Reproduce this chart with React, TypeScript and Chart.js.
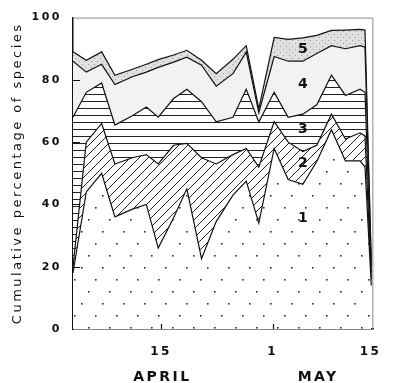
import React, { useEffect, useRef } from 'react';
import { Chart, registerables } from 'chart.js';

Chart.register(...registerables);

// Sampling days (April 1 = 1, May 1 = 31, May 15 = 45)
const days = [2.4, 4.3, 6.5, 8.4, 10.9, 12.9, 14.6, 16.8, 18.7, 20.8, 22.9, 25.3, 27.2, 29.0, 31.2, 33.2, 35.3, 37.3, 39.4, 41.4, 43.5, 44.2, 45.1];
// Cumulative percentages (top of each band)
const cum1 = [18, 44, 50, 36, 38.5, 40, 26, 35.7, 45, 22.6, 34.5, 43, 47.5, 34, 58, 48, 46.5, 53.8, 64, 54, 54, 52, 14];
const cum2 = [20, 60, 66, 53, 55, 56, 53, 59, 59.6, 55, 53, 56, 58, 52, 66.6, 60, 57, 59, 69, 61, 63, 62, 16];
const cum3 = [68, 76, 79, 65.5, 68.5, 71.3, 68, 74, 77, 73, 66.5, 68, 77, 66.5, 76, 68, 69, 72, 81.5, 75, 77, 76, 18];
const cum4 = [86, 82.5, 85, 78.5, 81, 82.5, 84, 85.7, 87.3, 84.7, 78, 82, 88.9, 69.5, 87.5, 86, 86, 88.5, 91, 90, 91, 90.5, 20];
const cum5 = [89, 86.3, 89, 81.5, 83.4, 85, 86.5, 88, 89.5, 86.3, 82, 86.6, 91, 70.7, 93.6, 93, 93.5, 94.3, 95.9, 96, 96.2, 96, 22];

const yTickValues = [0, 20, 40, 60, 80, 100];
const xTickDays = [15, 31, 45];
const xTickLabels = ['15', '1', '15'];
const monthDays = [15.2, 37.5];
const monthLabels = ['APRIL', 'MAY'];
const bandLabelDay = 35.3;
const bandLabelValues = [35.4, 53.2, 64, 78.7, 89.8];
const bandLabels = ['1', '2', '3', '4', '5'];
const yTitle = 'Cumulative percentage of species';

const FAMILY = "'DejaVu Sans', 'Liberation Sans', sans-serif";

function makeTile(w: number, h: number, draw: (g: CanvasRenderingContext2D) => void): CanvasPattern | string {
  const c = document.createElement('canvas');
  c.width = w;
  c.height = h;
  const g = c.getContext('2d');
  if (!g) return '#fff';
  draw(g);
  return g.createPattern(c, 'repeat') || '#fff';
}

export default function App() {
  const ref = useRef<HTMLCanvasElement | null>(null);

  useEffect(() => {
    const canvas = ref.current;
    if (!canvas) return;

    const dots = makeTile(42, 36, (g) => {
      g.fillStyle = '#fff';
      g.fillRect(0, 0, 42, 36);
      g.fillStyle = '#333';
      const pts = [[4, 3], [18, 15], [32, 27], [11, 27], [25, 3], [39, 15]];
      pts.forEach(([x, y]) => g.fillRect(x, y, 1.6, 1.6));
    });
    const hatch = makeTile(9, 9, (g) => {
      g.fillStyle = '#fff';
      g.fillRect(0, 0, 9, 9);
      g.strokeStyle = '#222';
      g.lineWidth = 1;
      g.beginPath();
      g.moveTo(0, 9); g.lineTo(9, 0);
      g.moveTo(-1, 1); g.lineTo(1, -1);
      g.moveTo(8, 10); g.lineTo(10, 8);
      g.stroke();
    });
    const horiz = makeTile(4, 7, (g) => {
      g.fillStyle = '#fff';
      g.fillRect(0, 0, 4, 7);
      g.fillStyle = '#222';
      g.fillRect(0, 3, 4, 1);
    });
    const stipple = makeTile(6, 6, (g) => {
      g.fillStyle = '#e0e0e0';
      g.fillRect(0, 0, 6, 6);
      g.fillStyle = '#999';
      g.fillRect(1, 1, 1, 1);
      g.fillRect(4, 4, 1, 1);
    });

    const framePlugin = {
      id: 'frame',
      beforeDraw(chart: any) {
        const ctx = chart.ctx;
        ctx.save();
        ctx.fillStyle = '#fff';
        ctx.fillRect(0, 0, chart.width, chart.height);
        ctx.restore();
        (ctx as any).letterSpacing = '2.5px';
      },
      afterDatasetsDraw(chart: any) {
        const ctx = chart.ctx;
        const { left, right, top, bottom } = chart.chartArea;
        const sx = chart.scales.x;
        const sy = chart.scales.y;
        ctx.save();
        (ctx as any).letterSpacing = '0px';
        ctx.strokeStyle = '#8c8c8c';
        ctx.lineWidth = 1;
        ctx.beginPath();
        ctx.moveTo(left, top + 0.5);
        ctx.lineTo(right - 0.5, top + 0.5);
        ctx.lineTo(right - 0.5, bottom);
        ctx.stroke();
        ctx.strokeStyle = '#111';
        ctx.lineWidth = 1.2;
        ctx.beginPath();
        yTickValues.forEach((v) => {
          if (v > 0 && v < 100) {
            const y = Math.round(sy.getPixelForValue(v)) + 0.5;
            ctx.moveTo(left, y);
            ctx.lineTo(left + 7, y);
          }
        });
        xTickDays.slice(0, 2).forEach((d) => {
          const x = Math.round(sx.getPixelForValue(d)) + 0.5;
          ctx.moveTo(x, bottom);
          ctx.lineTo(x, bottom - 5);
        });
        ctx.stroke();
        ctx.fillStyle = '#111';
        ctx.font = `bold 14px ${FAMILY}`;
        ctx.textAlign = 'center';
        ctx.textBaseline = 'middle';
        const bx = sx.getPixelForValue(bandLabelDay);
        bandLabelValues.forEach((v, i) => {
          ctx.fillText(bandLabels[i], bx, sy.getPixelForValue(v));
        });
        ctx.restore();
        (ctx as any).letterSpacing = '2.5px';
      },
    };

    const mk = (data: number[], fill: any, bg: any) => ({
      data: days.map((d, i) => ({ x: d, y: data[i] })),
      fill,
      backgroundColor: bg,
      borderColor: '#111',
      borderWidth: 1.2,
      pointRadius: 0,
      tension: 0,
    });

    const chart = new Chart(canvas, {
      type: 'line',
      data: {
        datasets: [
          mk(cum1, 'origin', dots),
          mk(cum2, '-1', hatch),
          mk(cum3, '-1', horiz),
          mk(cum4, '-1', '#f2f2f2'),
          mk(cum5, '-1', stipple),
        ] as any,
      },
      options: {
        animation: false,
        responsive: false,
        layout: { padding: { left: 0, right: 8, top: 15, bottom: 0 } },
        plugins: {
          legend: { display: false },
          tooltip: { enabled: false },
        },
        scales: {
          x: {
            type: 'linear',
            min: 2.4,
            max: 45.4,
            position: 'bottom',
            weight: 0,
            z: 1,
            grid: { display: false, drawTicks: false },
            border: { display: true, color: '#111', width: 1.5 },
            afterBuildTicks: (s: any) => { s.ticks = xTickDays.map((v) => ({ value: v })); },
            afterFit: (s: any) => { s.height = 34; },
            ticks: {
              padding: 16,
              color: '#111',
              autoSkip: false,
              maxRotation: 0,
              font: { family: FAMILY, size: 12, weight: 'bold' },
              callback: (v: any) => { const i = xTickDays.indexOf(v); return i >= 0 ? xTickLabels[i] : ''; },
            },
          },
          x2: {
            type: 'linear',
            min: 2.4,
            max: 45.4,
            position: 'bottom',
            weight: 1,
            grid: { display: false, drawTicks: false },
            border: { display: false },
            afterBuildTicks: (s: any) => { s.ticks = monthDays.map((v) => ({ value: v })); },
            afterFit: (s: any) => { s.height = 20; },
            ticks: {
              padding: 6,
              color: '#111',
              autoSkip: false,
              maxRotation: 0,
              font: { family: FAMILY, size: 14, weight: 'bold' },
              callback: (v: any) => { const i = monthDays.indexOf(v); return i >= 0 ? monthLabels[i] : ''; },
            },
          },
          y: {
            type: 'linear',
            min: 0,
            max: 100,
            position: 'left',
            z: 1,
            grid: { display: false, drawTicks: false },
            border: { display: true, color: '#111', width: 1.5 },
            afterBuildTicks: (s: any) => { s.ticks = yTickValues.map((v) => ({ value: v })); },
            afterFit: (s: any) => { s.width = 73; },
            ticks: {
              padding: 11,
              color: '#111',
              font: { family: FAMILY, size: 11, weight: 'bold' },
            },
            title: {
              display: true,
              text: yTitle,
              color: '#111',
              padding: { top: 10, bottom: 0 },
              font: { family: FAMILY, size: 13, weight: 'normal' },
            },
          },
        },
      } as any,
      plugins: [framePlugin],
    });

    return () => chart.destroy();
  }, []);

  return (
    <div style={{ position: 'fixed', left: 0, top: 0, width: 395, height: 383, background: '#fff' }}>
      <canvas ref={ref} width={395} height={383} style={{ display: 'block', width: 395, height: 383 }} />
    </div>
  );
}
